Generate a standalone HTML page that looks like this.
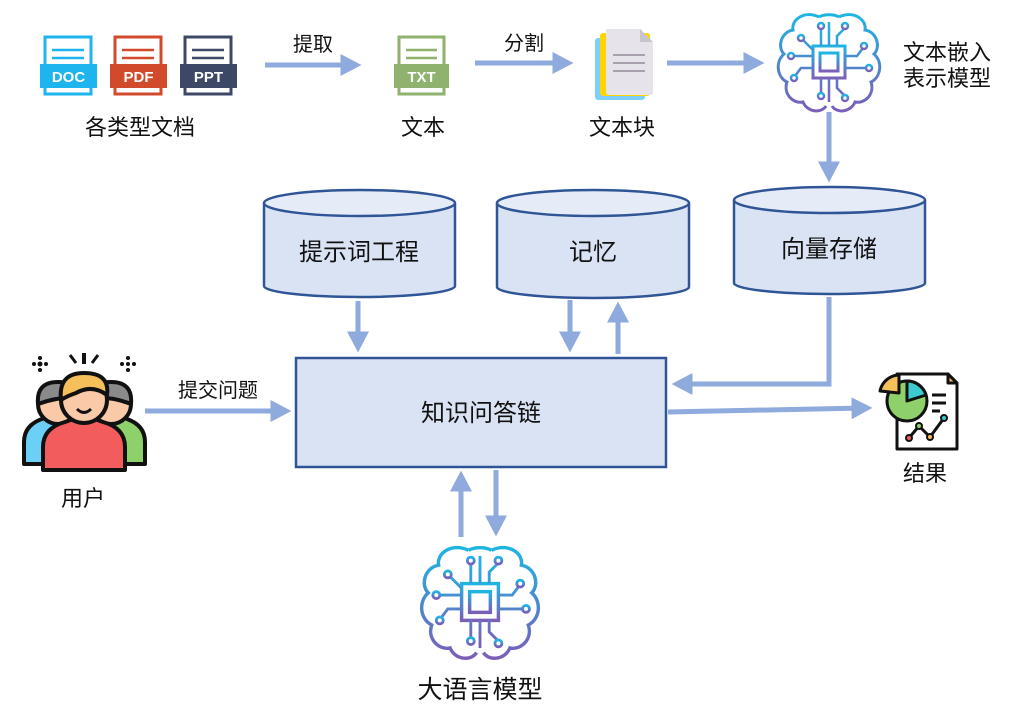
<!DOCTYPE html>
<html><head><meta charset="utf-8"><style>
body{margin:0;background:#fff;width:1012px;height:720px;overflow:hidden}
text{font-family:"Liberation Sans","Noto Sans CJK SC",sans-serif;fill:#111}
</style></head><body>
<svg width="1012" height="720" viewBox="0 0 1012 720" xmlns="http://www.w3.org/2000/svg">
<defs>
<marker id="ah" markerWidth="5" markerHeight="5" refX="2.5" refY="2.5" orient="auto" markerUnits="strokeWidth"><path d="M0,0.3 L4.2,2.5 L0,4.7 Z" fill="#8faadc"/></marker>
<linearGradient id="bg" x1="0" y1="0" x2="0" y2="1"><stop offset="0" stop-color="#1fb5e3"/><stop offset="1" stop-color="#7b5eb8"/></linearGradient>
<g id="brain">
<path d="M-10,-45 C-25,-52 -38,-42 -36,-32 C-48,-30 -52,-15 -45,-8 C-54,0 -52,15 -42,20 C-46,32 -36,42 -26,40 C-22,50 -8,52 -3,44 M10,-45 C25,-52 38,-42 36,-32 C48,-30 52,-15 45,-8 C54,0 52,15 42,20 C46,32 36,42 26,40 C22,50 8,52 3,44 M-10,-45 C-5,-48 5,-48 10,-45" fill="none" stroke="url(#bg)" stroke-width="3"/>
<rect x="-16" y="-16" width="32" height="32" fill="#fff" stroke="url(#bg)" stroke-width="3"/>
<rect x="-9" y="-9" width="18" height="18" fill="none" stroke="url(#bg)" stroke-width="3"/>
<g stroke="url(#bg)" stroke-width="2.5" fill="#fff">
<path d="M-8,-16 V-34 M8,-16 V-26 L16,-34 M0,-16 V-40 M-16,-6 H-36 M-16,6 H-28 L-34,14 M16,-6 H28 L34,-14 M16,6 H38 M-8,16 V32 M8,16 V26 L16,34 M0,16 V40 M-16,-12 L-26,-22"/>
<circle cx="-8" cy="-36" r="3"/><circle cx="16" cy="-36" r="3"/><circle cx="-38" cy="-6" r="3"/><circle cx="-35" cy="16" r="3"/><circle cx="35" cy="-16" r="3"/><circle cx="40" cy="6" r="3"/><circle cx="-8" cy="34" r="3"/><circle cx="16" cy="36" r="3"/><circle cx="-28" cy="-24" r="3"/>
</g></g>
</defs>

<g>
<rect x="45" y="37" width="46" height="57" fill="#fff" stroke="#1eb4ee" stroke-width="3"/>
<path d="M52,50h32M52,58h32M52,66h32" stroke="#1eb4ee" stroke-width="2.5"/>
<rect x="40" y="64" width="57" height="24" fill="#1eb4ee"/>
<text x="68.5" y="82" font-size="15" font-weight="bold" text-anchor="middle" style="fill:#fff">DOC</text>
<rect x="115" y="37" width="46" height="57" fill="#fff" stroke="#d14a2b" stroke-width="3"/>
<path d="M122,50h32M122,58h32M122,66h32" stroke="#d14a2b" stroke-width="2.5"/>
<rect x="110" y="64" width="57" height="24" fill="#d14a2b"/>
<text x="138.5" y="82" font-size="15" font-weight="bold" text-anchor="middle" style="fill:#fff">PDF</text>
<rect x="185" y="37" width="46" height="57" fill="#fff" stroke="#3d4866" stroke-width="3"/>
<path d="M192,50h32M192,58h32M192,66h32" stroke="#3d4866" stroke-width="2.5"/>
<rect x="180" y="64" width="57" height="24" fill="#3d4866"/>
<text x="208.5" y="82" font-size="15" font-weight="bold" text-anchor="middle" style="fill:#fff">PPT</text>
</g>
<text x="140" y="135" font-size="22" text-anchor="middle">各类型文档</text>

<line x1="265" y1="65" x2="353" y2="65" stroke="#8faadc" stroke-width="5" marker-end="url(#ah)"/>
<text x="313" y="51" font-size="20" text-anchor="middle">提取</text>

<rect x="399" y="37" width="45" height="57" fill="#fff" stroke="#8fb26e" stroke-width="3"/>
<path d="M406,50h31M406,58h31M406,66h31" stroke="#8fb26e" stroke-width="2.5"/>
<rect x="394" y="64" width="55" height="24" fill="#8fb26e"/>
<text x="421.5" y="82" font-size="15" font-weight="bold" text-anchor="middle" style="fill:#fff">TXT</text>
<text x="423" y="135" font-size="22" text-anchor="middle">文本</text>

<line x1="475" y1="63" x2="565" y2="63" stroke="#8faadc" stroke-width="5" marker-end="url(#ah)"/>
<text x="524" y="50" font-size="20" text-anchor="middle">分割</text>

<rect x="595" y="38" width="50" height="62" rx="3" fill="#7ccffb"/>
<rect x="600" y="33" width="50" height="63" rx="3" fill="#ffd400"/>
<path d="M606,29 H640 L653,42 V92 Q653,95 650,95 H609 Q606,95 606,92 Z" fill="#e6e4ea"/>
<path d="M640,29 V42 H653 Z" fill="#c8c4cc"/>
<path d="M613,55h32M613,63h32M613,71h32" stroke="#a8a1ad" stroke-width="2"/>
<text x="622" y="135" font-size="22" text-anchor="middle">文本块</text>

<line x1="667" y1="63" x2="756" y2="63" stroke="#8faadc" stroke-width="5" marker-end="url(#ah)"/>
<use href="#brain" transform="translate(829,62)"/>
<text x="903" y="60" font-size="22">文本嵌入</text>
<text x="903" y="86" font-size="22">表示模型</text>
<line x1="829" y1="112" x2="829" y2="174" stroke="#8faadc" stroke-width="5" marker-end="url(#ah)"/>

<g stroke="#2f5597" stroke-width="2.5">
<path d="M264,203 V286 A95.5,11 0 0 0 455,286 V203" fill="#dae3f3"/>
<ellipse cx="359.5" cy="203" rx="95.5" ry="13" fill="#e6ecf7"/>
<path d="M497,203 V287 A96,11 0 0 0 689,287 V203" fill="#dae3f3"/>
<ellipse cx="593" cy="203" rx="96" ry="13" fill="#e6ecf7"/>
<path d="M734,200 V283 A95.5,11 0 0 0 925,283 V200" fill="#dae3f3"/>
<ellipse cx="829.5" cy="200" rx="95.5" ry="13" fill="#e6ecf7"/>
</g>
<text x="359" y="260" font-size="24" text-anchor="middle">提示词工程</text>
<text x="593" y="260" font-size="24" text-anchor="middle">记忆</text>
<text x="829" y="257" font-size="24" text-anchor="middle">向量存储</text>

<line x1="358" y1="301" x2="358" y2="344" stroke="#8faadc" stroke-width="5" marker-end="url(#ah)"/>
<line x1="570" y1="300" x2="570" y2="344" stroke="#8faadc" stroke-width="5" marker-end="url(#ah)"/>
<line x1="618" y1="354" x2="618" y2="310" stroke="#8faadc" stroke-width="5" marker-end="url(#ah)"/>
<polyline points="829,297 829,384 680,384" fill="none" stroke="#8faadc" stroke-width="5" marker-end="url(#ah)"/>

<rect x="296" y="358" width="370" height="109" fill="#dae3f3" stroke="#2f5597" stroke-width="2.5"/>
<text x="481" y="421" font-size="24" text-anchor="middle">知识问答链</text>

<line x1="668" y1="412" x2="864" y2="408" stroke="#8faadc" stroke-width="5" marker-end="url(#ah)"/>
<line x1="145" y1="411" x2="283" y2="411" stroke="#8faadc" stroke-width="5" marker-end="url(#ah)"/>
<text x="218" y="397" font-size="20" text-anchor="middle">提交问题</text>

<g stroke="#111" stroke-width="4" stroke-linejoin="round">
<path d="M24,464 V442 Q24,424 45,418 L60,413 L75,418 Q96,424 96,442 V464 Z" fill="#6ccff6"/>
<path d="M73,464 V442 Q73,424 94,418 L109,413 L124,418 Q145,424 145,442 V464 Z" fill="#8ed16a"/>
<circle cx="58" cy="404" r="20" fill="#f9c9a8"/>
<path d="M38,404 Q36,382 58,382 Q80,382 78,398 Q60,396 38,404 Z" fill="#8a8a8a"/>
<circle cx="111" cy="404" r="20" fill="#f9c9a8"/>
<path d="M91,398 Q91,382 111,382 Q133,382 131,404 Q111,396 91,398 Z" fill="#8a8a8a"/>
<path d="M43,470 V447 Q43,428 65,422 L84,415 L103,422 Q125,428 125,447 V470 Z" fill="#f25c5c"/>
<circle cx="84" cy="400" r="23" fill="#f9c9a8"/>
<path d="M61,400 Q58,373 84,373 Q110,373 107,395 Q92,384 76,393 Q67,396 61,400 Z" fill="#f5bf5a"/>
</g>
<path d="M77,409 Q84,416 91,409" stroke="#111" stroke-width="3" fill="none"/>
<g fill="#111"><circle cx="40" cy="364" r="2.5"/><circle cx="34" cy="364" r="2"/><circle cx="46" cy="364" r="2"/><circle cx="40" cy="358" r="2"/><circle cx="40" cy="370" r="2"/>
<circle cx="128" cy="364" r="2"/><circle cx="122" cy="364" r="2"/><circle cx="134" cy="364" r="2"/><circle cx="128" cy="358" r="2"/><circle cx="128" cy="370" r="2"/>
<rect x="82" y="353" width="4" height="11"/></g>
<path d="M70,355 L76,363 M98,355 L92,363" stroke="#111" stroke-width="3"/>
<text x="83" y="506" font-size="22" text-anchor="middle">用户</text>

<g stroke="#111" stroke-width="3" stroke-linejoin="round">
<path d="M897,374 H948 L957,383 V449 H897 Z" fill="#fff"/>
<path d="M948,374 V383 H957 Z" fill="#f5bf5a"/>
<circle cx="907" cy="401" r="20" fill="#8ed16a"/>
<path d="M907,381 A20,20 0 0 1 926,395 L907,401 Z" fill="#3ccbcf"/>
<path d="M902,378 A20,20 0 0 0 883,394 L902,396 Z" fill="#f5bf5a" transform="translate(-3,-3)"/>
<path d="M932,395h14M932,403h14M932,411h8" fill="none"/>
<polyline points="909,438 919,426 930,437 944,418" fill="none"/>
</g>
<g stroke="#111" stroke-width="2"><circle cx="909" cy="438" r="3" fill="#f25c5c"/><circle cx="919" cy="426" r="3" fill="#8ed16a"/><circle cx="930" cy="437" r="3" fill="#f5bf5a"/><circle cx="944" cy="418" r="3" fill="#3ccbcf"/></g>
<text x="925" y="481" font-size="22" text-anchor="middle">结果</text>

<line x1="461" y1="537" x2="461" y2="479" stroke="#8faadc" stroke-width="5" marker-end="url(#ah)"/>
<line x1="496" y1="470" x2="496" y2="528" stroke="#8faadc" stroke-width="5" marker-end="url(#ah)"/>
<use href="#brain" transform="translate(480,602) scale(1.15)"/>
<text x="480" y="698" font-size="25" text-anchor="middle">大语言模型</text>
</svg>
</body></html>
